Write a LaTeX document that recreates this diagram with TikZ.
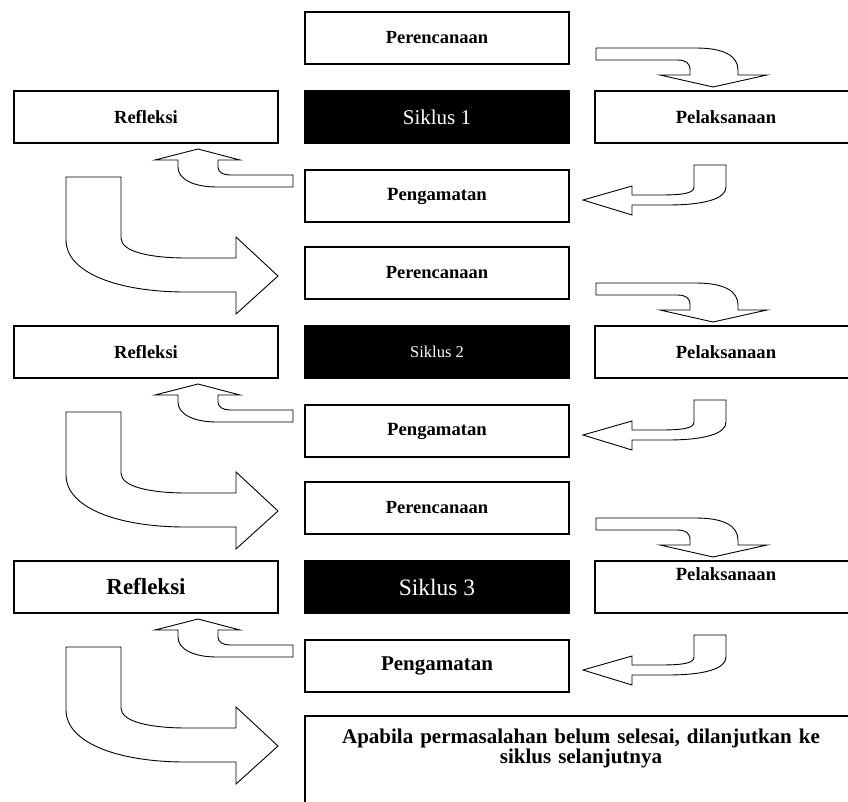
\documentclass[tikz,border=0pt]{standalone}
\usepackage{fontspec}
\setmainfont{Liberation Serif}
\usetikzlibrary{positioning}

\begin{document}
\begin{tikzpicture}[x=1pt, y=-1pt, node distance=27pt,
 box/.style={draw, line width=1.4pt, minimum width=264pt, minimum height=52pt, inner sep=0pt, outer sep=0pt},
 hitam/.style={box, fill=black, text=white},
 tb/.style={font=\fontsize{#1}{#1}\selectfont\bfseries},
 tr/.style={font=\fontsize{#1}{#1}\selectfont},
 blok/.style={draw, line width=0.9pt, fill=white, line join=miter},
 turnRD/.pic={\draw[blok] (0,0) -- (100,0) .. controls (128,0) and (142,8) .. (142,22) -- (142,27) -- (171,27) -- (117,39) -- (64,27) -- (94,27) -- (94,22) .. controls (94,15) and (90,12) .. (81,12) -- (0,12) -- cycle;},
 turnDL/.pic={\draw[blok] (0,0) -- (32,0) -- (32,22) .. controls (32,34) and (10,40) .. (-27,40) -- (-62,40) -- (-62,50) -- (-111,35) -- (-62,21) -- (-62,30) -- (-34,30) .. controls (-10,30) and (0,28) .. (0,22) -- cycle;},
 turnLU/.pic={\draw[blok] (0,0) -- (0,-12) -- (-63,-12) .. controls (-70,-12) and (-75,-15) .. (-75,-20) -- (-75,-27) -- (-53,-27) -- (-95,-38) -- (-138,-27) -- (-115,-27) -- (-115,-20) .. controls (-115,-8) and (-100,0) .. (-76,0) -- cycle;},
 turnDR/.pic={\draw[blok] (0,0) -- (55,0) -- (55,61) .. controls (55,75) and (85,81) .. (121,81) -- (170,81) -- (170,60) -- (212,99) -- (170,137) -- (170,115) -- (120,115) .. controls (50,115) and (0,95) .. (0,63) -- cycle;}]
\useasboundingbox (0,0) rectangle (848,801);
\clip (0,0) rectangle (848,801);
% siklus 1
\node[box, tb=18.5] (per1) at (437,38) {Perencanaan};
\node[hitam, tr=21, below=of per1] (sik1) {Siklus 1};
\node[box, tb=18.5, left=of sik1] (ref1) {Refleksi};
\node[box, tb=18.6, minimum width=262pt, right=26pt of sik1] (pel1) {Pelaksanaan};
\node[box, tb=18.7, below=of sik1] (pen1) {Pengamatan};
% siklus 2
\node[box, tb=18.5, below=25pt of pen1] (per2) {Perencanaan};
\node[hitam, tr=16.5, below=of per2] (sik2) {Siklus 2};
\node[box, tb=18.5, left=of sik2] (ref2) {Refleksi};
\node[box, tb=18.6, minimum width=262pt, right=26pt of sik2] (pel2) {Pelaksanaan};
\node[box, tb=18.7, below=of sik2] (pen2) {Pengamatan};
% siklus 3
\node[box, tb=18.5, below=25pt of pen2] (per3) {Perencanaan};
\node[hitam, tr=23.5, below=of per3] (sik3) {Siklus 3};
\node[box, tb=23, left=of sik3] (ref3) {Refleksi};
\node[box, tb=18.6, minimum width=262pt, text height=19pt, text depth=33pt, right=26pt of sik3] (pel3) {Pelaksanaan};
\node[box, tb=21, below=of sik3] (pen3) {Pengamatan};
\node[box, font=\fontsize{21}{18}\selectfont\bfseries, anchor=north west, minimum width=552pt, minimum height=110pt, text width=540pt, align=center, inner ysep=7pt, text depth=70pt] (lanjut) at ([yshift=-24pt]pen3.south west) {Apabila permasalahan belum selesai, dilanjutkan ke\\ siklus selanjutnya};
% panah
\foreach \i in {1,2,3} {
  \pic at ([shift={(1,-43)}]pel\i.north west) {turnRD};
  \pic at ([shift={(125,-5)}]pen\i.north east) {turnDL};
  \pic at ([shift={(-12,-9)}]pen\i.west) {turnLU};
  \pic at ([shift={(52,34)}]ref\i.south west) {turnDR};
}
\end{tikzpicture}
\end{document}
